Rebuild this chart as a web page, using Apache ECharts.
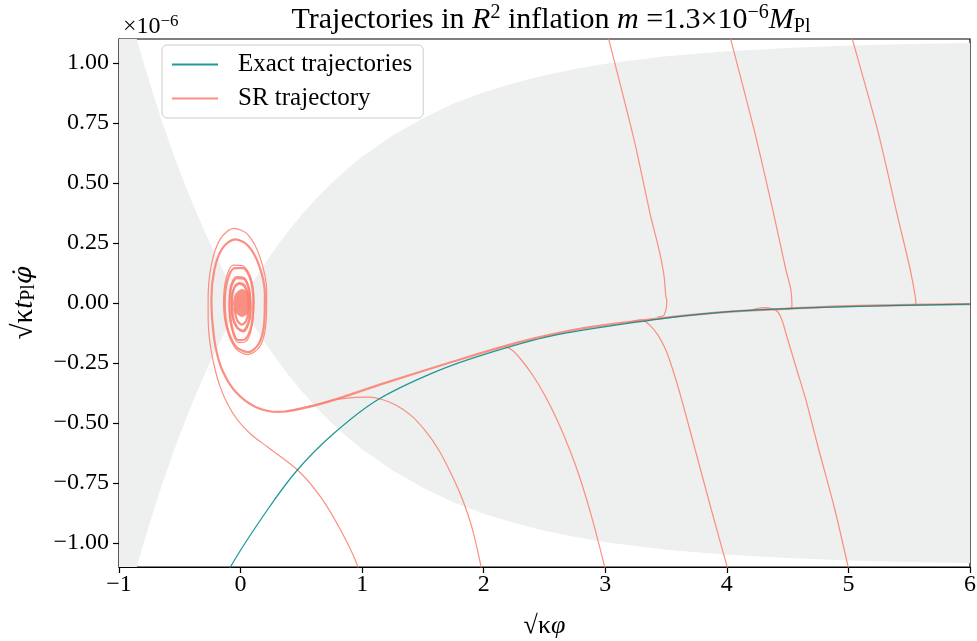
<!DOCTYPE html>
<html>
<head>
<meta charset="utf-8">
<script src="https://cdn.jsdelivr.net/npm/echarts@6/dist/echarts.min.js"></script>
<style>html,body{margin:0;padding:0;background:#fff}#c{width:977px;height:641px}</style>
</head>
<body>
<div id="c"></div>
<script>
// ---- data (y values in units of 1e-6) ----
const xTicks = [-1, 0, 1, 2, 3, 4, 5, 6];
const yTicks = [-1, -0.75, -0.5, -0.25, 0, 0.25, 0.5, 0.75, 1];

// half-width of shaded (inflating) region: |y| < edge
const edgeX = [-1, -0.9, -0.85, -0.8, -0.75, -0.7, -0.65, -0.6, -0.55, -0.5, -0.45, -0.4, -0.35, -0.3, -0.25, -0.2, -0.15, -0.1, -0.05, 0,
  0.05, 0.1, 0.15, 0.2, 0.25, 0.3, 0.4, 0.5, 0.625, 0.75, 0.875, 1, 1.25, 1.5, 1.75, 2, 2.25, 2.5, 2.75, 3, 3.5, 4, 4.5, 5, 5.5, 6];
const edgeY = [1.377, 1.184, 1.093, 1.006, 0.922, 0.841, 0.764, 0.690, 0.618, 0.550, 0.485, 0.421, 0.361, 0.303, 0.247, 0.194, 0.142, 0.093, 0.046, 0,
  0.044, 0.086, 0.126, 0.164, 0.201, 0.237, 0.304, 0.366, 0.436, 0.500, 0.557, 0.609, 0.698, 0.770, 0.830, 0.878, 0.917, 0.949, 0.975, 0.997, 1.028, 1.049, 1.063, 1.073, 1.079, 1.083];

// exact trajectory (teal)
const exactX = [-0.1, -0.082, 0.22, 0.467, 0.768, 1.125, 1.591, 2.0, 2.55, 3.374, 3.786, 4.25, 5.0, 6.0];
const exactY = [-1.15, -1.099, -0.8625, -0.696, -0.543, -0.404, -0.289, -0.215, -0.138, -0.071, -0.046, -0.029, -0.015, -0.005];

// SR attractor bundle (salmon, thick) ending in spiral
const bundleX = [6.0, 5.0, 4.25, 3.786, 3.374, 2.823, 2.277, 1.73, 1.177, 0.724, 0.453, 0.313, 0.123, -0.041, -0.151, -0.206, -0.233,
  -0.24, -0.215, -0.15, -0.045, 0.06, 0.15, 0.2, 0.195, 0.15, 0.06, -0.04, -0.11, -0.13, -0.11, -0.05, 0.02, 0.08, 0.105, 0.09, 0.04, -0.02, -0.07, -0.09, -0.075, -0.03, 0.03, 0.07, 0.08, 0.065, 0.02, -0.03, -0.065, -0.07, -0.05, -0.01, 0.03, 0.06, 0.065, 0.045, 0.01, -0.03, -0.05];
const bundleY = [-0.005, -0.013, -0.03, -0.046, -0.068, -0.105, -0.165, -0.247, -0.335, -0.411, -0.446, -0.454, -0.433, -0.37, -0.279, -0.182, -0.071,
  0.02, 0.14, 0.228, 0.265, 0.24, 0.16, 0.04, -0.08, -0.17, -0.205, -0.18, -0.1, 0.0, 0.09, 0.145, 0.145, 0.1, 0.01, -0.09, -0.15, -0.155, -0.1, -0.01, 0.07, 0.104, 0.1, 0.05, -0.02, -0.08, -0.115, -0.1, -0.05, 0.02, 0.065, 0.08, 0.07, 0.03, -0.03, -0.075, -0.09, -0.07, -0.02];

// spiral centre (dense loops)
const coreX = [-0.05, -0.031, 0.012, 0.055, 0.074, 0.055, 0.012, -0.031, -0.05, -0.027, 0.012, 0.05, 0.066, 0.05, 0.012, -0.027, -0.043, -0.022, 0.012, 0.046, 0.06, 0.046, 0.012, -0.022, -0.036, -0.017, 0.012, 0.041, 0.053, 0.041, 0.012, -0.017, -0.029, -0.012, 0.012, 0.036, 0.046, 0.036, 0.012, -0.012, -0.022, -0.006, 0.012, 0.03, 0.038, 0.03, 0.012, -0.006, -0.015, -0.002, 0.012, 0.026, 0.032, 0.026, 0.012, -0.002, -0.008, 0.004, 0.012, 0.02, 0.012, 0.004];
const coreY = [0.0, 0.036, 0.052, 0.036, 0.0, -0.036, -0.052, -0.036, 0.0, 0.032, 0.046, 0.032, 0.0, -0.032, -0.046, -0.032, 0.0, 0.028, 0.04, 0.028, 0.0, -0.028, -0.04, -0.028, 0.0, 0.024, 0.034, 0.024, 0.0, -0.024, -0.034, -0.024, 0.0, 0.02, 0.028, 0.02, 0.0, -0.02, -0.028, -0.02, 0.0, 0.015, 0.022, 0.015, 0.0, -0.015, -0.022, -0.015, 0.0, 0.011, 0.016, 0.011, 0.0, -0.011, -0.016, -0.011, 0.0, 0.004, 0.006, 0.0, -0.006, 0.0];

// SR trajectory starting at bottom near x=1 (thin), into outer spiral
const trajB1X = [0.975, 0.96, 0.823, 0.658, 0.469, 0.222, 0.082, -0.025, -0.107, -0.173, -0.222, -0.255, -0.267, -0.267,
  -0.24, -0.165, -0.055, 0.06, 0.16, 0.215, 0.21, 0.16, 0.06, -0.04, -0.115, -0.14, -0.12, -0.06, 0.02, 0.085, 0.11, 0.095, 0.045, -0.02, -0.075, -0.095, -0.08, -0.035, 0.03, 0.075, 0.085, 0.07, 0.025, -0.03, -0.07, -0.075, -0.05, -0.01, 0.035, 0.065];
const trajB1Y = [-1.15, -1.092, -0.946, -0.808, -0.696, -0.6, -0.546, -0.4875, -0.421, -0.342, -0.25, -0.154, -0.0625, 0.0125,
  0.16, 0.268, 0.311, 0.285, 0.19, 0.05, -0.08, -0.18, -0.215, -0.19, -0.105, 0.0, 0.1, 0.158, 0.155, 0.105, 0.01, -0.095, -0.16, -0.165, -0.105, -0.01, 0.075, 0.11, 0.105, 0.055, -0.02, -0.085, -0.12, -0.105, -0.055, 0.02, 0.07, 0.085, 0.075, 0.03];

const trajB2X = [2.0, 1.909, 1.827, 1.737, 1.63, 1.514, 1.399, 1.276, 1.152, 1.053, 0.922, 0.765, 0.634, 0.494, 0.37];
const trajB2Y = [-1.15, -0.946, -0.821, -0.717, -0.6125, -0.529, -0.467, -0.425, -0.4, -0.392, -0.394, -0.404, -0.421, -0.4375, -0.45];
const trajB3X = [3.02, 2.895, 2.797, 2.708, 2.604, 2.501, 2.402, 2.31, 2.232, 2.165, 2.1];
const trajB3Y = [-1.15, -0.904, -0.7375, -0.6125, -0.4875, -0.383, -0.3, -0.2375, -0.196, -0.182, -0.192];
const trajB4X = [4.03, 3.873, 3.74, 3.629, 3.556, 3.498, 3.432, 3.366, 3.3, 3.2];
const trajB4Y = [-1.15, -0.8625, -0.6125, -0.404, -0.279, -0.196, -0.133, -0.092, -0.07, -0.079];
const trajB5X = [5.02, 4.889, 4.757, 4.65, 4.576, 4.502, 4.453, 4.42, 4.37, 4.305, 4.247, 4.19];
const trajB5Y = [-1.15, -0.8625, -0.6125, -0.404, -0.279, -0.154, -0.071, -0.0375, -0.023, -0.019, -0.023, -0.033];

const trajT1X = [3.0, 3.03, 3.237, 3.374, 3.443, 3.484, 3.498, 3.506, 3.484, 3.43];
const trajT1Y = [1.16, 1.096, 0.68, 0.36, 0.22, 0.11, 0.026, 0.0125, -0.05, -0.058];
const trajT2X = [4.0, 4.033, 4.225, 4.39, 4.486, 4.527, 4.535, 4.5];
const trajT2Y = [1.16, 1.096, 0.72, 0.36, 0.1375, 0.054, -0.015, -0.026];
const trajT3X = [5.0, 5.034, 5.24, 5.405, 5.509, 5.55, 5.555, 5.52];
const trajT3Y = [1.16, 1.096, 0.72, 0.36, 0.1375, 0.026, -0.008, -0.01];

// ---- chart ----
const zip = (xs, ys) => xs.map((x, i) => [x, ys[i]]);
const SAL = 'rgba(250,128,114,0.88)';
const TEAL = 'rgba(0,139,139,0.88)';
const GRAY = '#eef0ef';
const FONT = 'Liberation Serif';
const minus = s => String(s).replace('-', '\u2212');

function line(name, data, color, width, z, smooth) {
  return {
    name: name, type: 'line', data: data, symbol: 'none', showSymbol: false,
    smooth: smooth === undefined ? 0.3 : smooth, clip: true, z: z,
    lineStyle: { color: color, width: width }, itemStyle: { color: color },
    emphasis: { disabled: true }, silent: true, animation: false
  };
}
// shaded band |y| < edge, drawn as one polygon through the axis scales
const bandSeries = {
  type: 'custom', data: zip(edgeX, edgeY), encode: { x: 0, y: 1 }, clip: true, z: 1, silent: true, animation: false,
  renderItem: function (params, api) {
    if (params.dataIndex !== 0) return null;
    const pts = [];
    for (let i = 0; i < edgeX.length; i++) pts.push(api.coord([edgeX[i], edgeY[i]]));
    for (let i = edgeX.length - 1; i >= 0; i--) pts.push(api.coord([edgeX[i], -edgeY[i]]));
    return { type: 'polygon', shape: { points: pts }, style: { fill: GRAY, stroke: null } };
  }
};

const chart = echarts.init(document.getElementById('c'), null, { renderer: 'canvas' });
const SR = 'SR trajectory', EX = 'Exact trajectories';
chart.setOption({
  animation: false,
  backgroundColor: '#fff',
  textStyle: { fontFamily: FONT },
  title: [{
    text: 'Trajectories in {i|R}{sup|2} inflation {i|m} =1.3×10{sup|\u22126}{i|M}{sub|Pl}',
    left: 546, top: -2, textAlign: 'center',
    textStyle: {
      fontFamily: FONT, fontSize: 30, fontWeight: 'normal', color: '#000', lineHeight: 34,
      rich: {
        i: { fontFamily: FONT, fontSize: 30, fontStyle: 'italic', color: '#000', lineHeight: 34 },
        sup: { fontFamily: FONT, fontSize: 20, color: '#000', verticalAlign: 'top', lineHeight: 20 },
        sub: { fontFamily: FONT, fontSize: 20, color: '#000', verticalAlign: 'bottom', lineHeight: 16 }
      }
    }
  }, {
    text: '×10{sup|\u22126}', left: 118, top: 8,
    textStyle: {
      fontFamily: FONT, fontSize: 24, fontWeight: 'normal', color: '#000', lineHeight: 28,
      rich: { sup: { fontFamily: FONT, fontSize: 17, color: '#000', verticalAlign: 'top', lineHeight: 16 } }
    }
  }],
  legend: {
    data: [EX, SR], orient: 'vertical', left: 162, top: 45,
    icon: 'rect', itemWidth: 46, itemHeight: 2, itemGap: 9,
    backgroundColor: 'rgba(255,255,255,0.85)', borderColor: '#cccccc', borderWidth: 1, borderRadius: 5,
    padding: [7, 11, 7, 10],
    textStyle: { fontFamily: FONT, fontSize: 25, lineHeight: 25, color: '#000', padding: [0, 0, 0, 15] },
    selectedMode: false
  },
  grid: { left: 119, right: 7, top: 39, bottom: 74, show: true, borderColor: '#000', borderWidth: 1.2, backgroundColor: 'transparent', containLabel: false, outerBoundsMode: 'none' },
  xAxis: {
    type: 'value', min: -1, max: 6, interval: 1,
    name: '\u221A\u03BA{i|\u03C6}', nameLocation: 'middle', nameGap: 46,
    nameTextStyle: { fontFamily: FONT, fontSize: 26, color: '#000', rich: { i: { fontFamily: FONT, fontStyle: 'italic', fontSize: 26, color: '#000' } } },
    axisLine: { show: true, onZero: false, lineStyle: { color: '#000', width: 1.2 } },
    axisTick: { show: true, inside: false, length: 6, lineStyle: { color: '#000', width: 1.2 }, customValues: xTicks },
    axisLabel: { show: true, margin: 6, fontFamily: FONT, fontSize: 24, color: '#000', customValues: xTicks, formatter: v => minus(v) },
    splitLine: { show: false }
  },
  yAxis: {
    type: 'value', min: -1.1, max: 1.1,
    name: '\u221A\u03BA{i|t}{sub|Pl}{d|\u03C6\u0307}', nameLocation: 'middle', nameGap: 80, nameRotate: 90,
    nameTextStyle: {
      fontFamily: FONT, fontSize: 29, color: '#000',
      rich: {
        i: { fontFamily: FONT, fontStyle: 'italic', fontSize: 29, color: '#000' },
        d: { fontFamily: 'DejaVu Serif', fontStyle: 'italic', fontSize: 25, color: '#000' },
        sub: { fontFamily: FONT, fontSize: 20, color: '#000', verticalAlign: 'bottom', lineHeight: 14 }
      }
    },
    axisLine: { show: true, onZero: false, lineStyle: { color: '#000', width: 1.2 } },
    axisTick: { show: true, inside: false, length: 6, lineStyle: { color: '#000', width: 1.2 }, customValues: yTicks },
    axisLabel: { show: true, margin: 10, fontFamily: FONT, fontSize: 24, color: '#000', customValues: yTicks, formatter: v => minus(v.toFixed(2)) },
    splitLine: { show: false }
  },
  series: [
    bandSeries,
    line(SR, zip(bundleX, bundleY), SAL, 2.2, 5),
    line(SR, zip(coreX, coreY), SAL, 3, 5),
    line(SR, zip(trajB1X, trajB1Y), SAL, 1.2, 5),
    line(SR, zip(trajB2X, trajB2Y), SAL, 1.2, 5),
    line(SR, zip(trajB3X, trajB3Y), SAL, 1.2, 5),
    line(SR, zip(trajB4X, trajB4Y), SAL, 1.2, 5),
    line(SR, zip(trajB5X, trajB5Y), SAL, 1.2, 5),
    line(SR, zip(trajT1X, trajT1Y), SAL, 1.2, 5),
    line(SR, zip(trajT2X, trajT2Y), SAL, 1.2, 5),
    line(SR, zip(trajT3X, trajT3Y), SAL, 1.2, 5),
    line(EX, zip(exactX, exactY), TEAL, 1.3, 6)
  ]
});
</script>
</body>
</html>
